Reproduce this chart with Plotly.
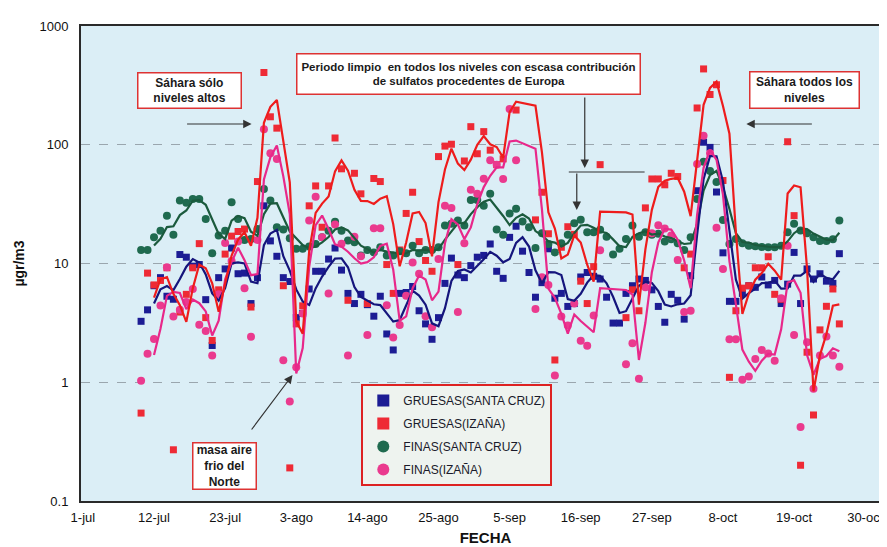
import pandas as pd
import plotly.graph_objects as go

# ---------------- data (daily, 10-jul to 26-oct) ----------------
start_date = "2003-07-10"

gruesas_santa_cruz = [
    3.26, 4.07, 6.5, 7.6, 5.3, 5.0, 11.9, 11.3, 9.5, 9.8,
    4.96, 2.04, 7.6, 9.0, 13.5, 8.2, 8.3, 4.6, 7.6, 30.6,
    15.5, 11.5, 7.6, 7.05, 3.5, 3.8, 6.1, 8.6, 8.6, 10.9,
    13.5, 8.8, 5.6, 4.6, 5.5, 4.5, 3.6, 5.3, 2.55, 1.87,
    5.6, 5.7, 6.4, 4.0, 3.1, 2.3, 3.5, 6.8, 11.1, 8.0,
    7.6, 9.6, 11.3, 11.7, 14.6, 8.6, 7.5, 16.6, 20.6, 12.7,
    8.4, 5.2, 6.9, 13.3, 5.1, 5.6, 4.35, 4.6, 7.7, 8.4,
    7.8, 7.4, 5.2, 3.15, 3.15, 5.6, 6.5, 7.4, 7.2, 6.0,
    4.35, 3.2, 5.5, 4.9, 3.4, 7.9, 41, 105, 95, 40,
    12.3, 4.8, 4.8, 5.6, 6.5, 6.3, 7.7, 6.6, 7.2, 4.6,
    6.7, 12.4, 4.6, 9.0, 7.4, 8.2, 7.1, 6.8, 12.1,
]

gruesas_izana = [
    0.55, 8.3, 6.6, 7.2, 9.2, 0.27, 3.9, 5.5, 9.2, 14.7,
    3.5, 2.25, 6.0, 12, 17, 18.6, 19.5, 4.3, 49, 406,
    172, 138, 6.5, 0.19, 3.1, 4.4, 30.6, 45, 20.2, 45,
    114, 62.7, 4.9, 57.5, 38.6, 4.6, 52, 49, 9.8, 5.6,
    13, 26.4, 39.8, 15.3, 10.6, 8.6, 79.5, 97.4, 101, 9.8,
    73, 142, 84, 129, 90, 68, 76, 420, 196, None,
    None, 23.3, 39.8, 17.8, 1.54, 13.7, 20.4, 17.6, 7.1, 4.6,
    9.4, 68, None, None, None, 3.5, 6.0, 4.0, 29.4, 51.5,
    51.5, 46, 57.5, 54, 9.2, 12, 204, 435, 265, 320,
    50, 1.1, 4.0, 6.2, 6.5, 9.2, 9.2, 11.4, 5.5, 5.0,
    106, 25.3, 0.2, 1.79, 0.53, 2.76, 4.36, 6.1, 3.1,
]

finas_santa_cruz = [
    13.0, 13.0, 16.6, 18.9, 25.3, 17.5, 33.9, 32.4, 35, 35,
    23.7, 12.2, 17.2, 18.9, 32.8, 23.7, 15.8, 16.1, 19.5, 42.4,
    33.9, 20.2, 19.3, 16.3, 13.3, 13.3, 13.9, 14.6, 16.6, 18.9,
    22.5, 18.9, 15.6, 15.1, 11.7, 13, 12.4, 13.7, 11.7, 11.7,
    12.7, 12.2, 14.1, 12.2, 13, 13, 13.7, 20.9, 21.6, 23,
    20.9, 34.3, 34.3, 30.7, 38.6, 19.3, 17.5, 26.4, 28.9, 22.6,
    20.2, 13.5, 18, 14.6, 12.4, 14.8, 17.5, 21.8, 23.4, 18.3,
    18.3, 19.2, 16.8, 11.9, 13.3, 16.1, 20.9, 16.8, 18.3, 17.5,
    17.8, 15.3, 16, 14.8, 13, 16.6, 35, 72, 60, 48.5,
    23.3, 14.6, 16.1, 14.8, 14.1, 14, 13.8, 13.7, 13.7, 14.1,
    18.3, 21.6, 19, 18, 16.6, 15.5, 15.5, 16, 23,
]

finas_izana = [
    1.03, 1.74, 2.31, 4.42, 9.3, 3.57, 4.07, 4.74, 6.1, 3.05,
    2.7, 1.68, 5.5, 14.9, 10.5, 15.3, 6.2, 2.42, 15.8, 135,
    85, 76, 1.53, 0.69, 1.34, 3.8, 23, 36.4, 16.6, 5.6,
    21.3, 14.7, 1.68, 16.8, 11.5, 2.5, 19.8, 19.8, 4.45, 2.38,
    3.03, 5.35, 10.2, 8.2, 3.6, 2.9, 10.9, 30.6, 29.4, 3.9,
    14.8, 41.7, 38.6, 51.7, 74, 68, 51.5, 200, 74, None,
    None, 4.14, 7.66, 6.6, 1.14, 3.57, 3.0, 4.6, 2.24, 2.03,
    3.64, 12.9, None, None, None, 1.42, 2.13, 1.07, 6.3, 18,
    21, 19.7, 17.2, 10.7, 3.9, 4, 69, 119, 85, 20,
    9.0, 2.3, 2.3, 1.05, 1.12, 1.57, 1.87, 1.75, 1.52, 5.1,
    14.1, 2.5, 0.42, 2.17, 0.88, 1.68, 2.43, 1.68, 1.35,
]

tick_dates = ["2003-07-01", "2003-07-12", "2003-07-23", "2003-08-03", "2003-08-14",
              "2003-08-25", "2003-09-05", "2003-09-16", "2003-09-27", "2003-10-08",
              "2003-10-19", "2003-10-30"]
tick_labels = ["1-jul", "12-jul", "23-jul", "3-ago", "14-ago", "25-ago", "5-sep",
               "16-sep", "27-sep", "8-oct", "19-oct", "30-oct"]
y_ticks = [0.1, 1, 10, 100, 1000]
y_tick_labels = ["0.1", "1", "10", "100", "1000"]

dates = pd.date_range(start_date, periods=len(gruesas_santa_cruz), freq="D")

FONT = "Liberation Sans, Arial, sans-serif"

# plot-area pixel geometry helpers (for annotations only)
L, R, T, B = 73, 884, 18, 493
def xp(px):
    return (px - L) / (R - L)
def yp(py):
    return 1 - (py - T) / (B - T)

series = [
    ("GRUESAS(SANTA CRUZ)", gruesas_santa_cruz, "square", "#1c1c94", "#15157c", 7),
    ("GRUESAS(IZAÑA)", gruesas_izana, "square", "#ee2a35", "#ee1c1c", 7),
    ("FINAS(SANTA CRUZ)", finas_santa_cruz, "circle", "#1f6a4f", "#1b5a3d", 8),
    ("FINAS(IZAÑA)", finas_izana, "circle", "#ea3a8e", "#e8288a", 8),
]

fig = go.Figure()
for i, (name, vals, sym, mcol, lcol, msz) in enumerate(series):
    fig.add_trace(go.Scatter(
        x=dates, y=vals, mode="markers", name=name, legendgroup=f"g{i}",
        marker=dict(symbol=sym, size=msz, color=mcol, line=dict(width=0)),
    ))

def trend(vals):
    s = pd.Series(vals, index=dates, dtype=float).dropna()
    return s.rolling(3).mean().dropna()

for idx in [2, 0, 3, 1]:
    name, vals, sym, mcol, lcol, msz = series[idx]
    t = trend(vals)
    fig.add_trace(go.Scatter(
        x=t.index, y=t.values, mode="lines", showlegend=False,
        line=dict(color=lcol, width=2.2), hoverinfo="skip",
    ))

annotations = []
def box(text, cx, cy, w, h, size=12):
    annotations.append(dict(
        text=f"<b>{text}</b>", x=xp(cx), y=yp(cy), xref="paper", yref="paper",
        showarrow=False, bgcolor="white", bordercolor="#dd3333", borderwidth=1.5,
        borderpad=2, width=w, height=h,
        font=dict(family=FONT, size=size, color="#1a1a1a"), align="center",
        xanchor="center", yanchor="middle",
    ))

box("Sáhara sólo<br>niveles altos", 182, 82.5, 98, 30)
box("Periodo limpio  en todos los niveles con escasa contribución<br>de sulfatos procedentes de Europa",
    461.5, 66.5, 338, 35, size=11.5)
box("Sáhara todos los<br>niveles", 798, 82, 104, 31)
box("masa aire<br>frio del<br>Norte", 217, 457.5, 58, 41)

def arrow(hx, hy, tx, ty):
    annotations.append(dict(
        text="", x=xp(hx), y=yp(hy), xref="paper", yref="paper",
        ax=tx - hx, ay=ty - hy, axref="pixel", ayref="pixel",
        showarrow=True, arrowhead=2, arrowsize=1.4, arrowwidth=1.2,
        arrowcolor="#333333",
    ))

arrow(244, 116, 178, 116)
arrow(578, 160, 578, 88)
arrow(570, 202, 570, 164)
arrow(740, 116, 807, 116)
arrow(285, 367, 243, 423)

shapes = [dict(type="line", xref="paper", yref="paper",
               x0=xp(562), x1=xp(638), y0=yp(164), y1=yp(164),
               line=dict(color="#333333", width=1.2))]

fig.update_layout(
    width=887, height=547,
    margin=dict(l=L, r=887 - R, t=T, b=547 - B),
    paper_bgcolor="white", plot_bgcolor="#dbeef6",
    font=dict(family=FONT, size=13, color="#111111"),
    showlegend=True,
    legend=dict(
        x=xp(354), y=yp(376), xanchor="left", yanchor="top",
        bgcolor="#eef3ef", bordercolor="#dd2222", borderwidth=2,
        font=dict(family=FONT, size=12, color="#1a1a2a"),
        tracegroupgap=4, itemsizing="constant",
    ),
    annotations=annotations,
    shapes=shapes,
)

fig.update_xaxes(
    type="date", range=["2003-06-30 17:00", "2003-11-02 20:00"],
    tickvals=tick_dates, ticktext=tick_labels, showgrid=False,
    ticks="", ticklabelstandoff=3,
    tickfont=dict(family=FONT, size=13, color="#111111"),
    showline=True, mirror=True, linecolor="#2a2a2a", linewidth=2,
    title=dict(text="<b>FECHA</b>", font=dict(family=FONT, size=15, color="#111111"), standoff=9),
    zeroline=False,
)
fig.update_yaxes(
    type="log", range=[-1, 3], tickvals=y_ticks, ticktext=y_tick_labels,
    showgrid=True, gridcolor="#9aa6ae", griddash="dash", gridwidth=1,
    ticks="", ticklabelstandoff=8,
    tickfont=dict(family=FONT, size=13, color="#111111"),
    showline=True, mirror=True, linecolor="#2a2a2a", linewidth=2,
    title=dict(text="<b>µgr/m3</b>", font=dict(family=FONT, size=14, color="#111111"), standoff=12),
    zeroline=False,
)

fig.write_html("out.html")
